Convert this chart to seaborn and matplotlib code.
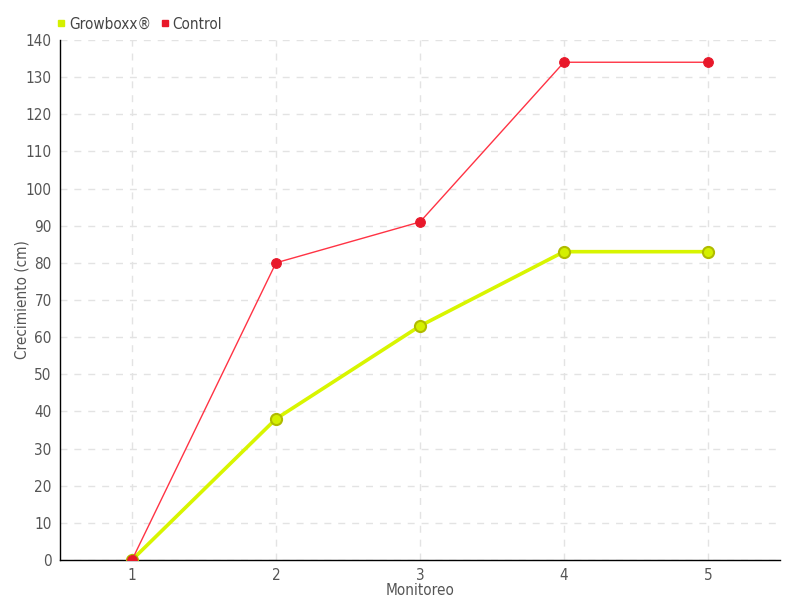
import matplotlib
matplotlib.use("Agg")
import matplotlib.pyplot as plt
import seaborn as sns
import pandas as pd
from matplotlib.lines import Line2D

monitoreo = [1, 2, 3, 4, 5]
growboxx = [0, 38, 63, 83, 83]
control = [0, 80, 91, 134, 134]
series_names = ["Growboxx®", "Control"]
y_ticks = list(range(0, 141, 10))

sns.set_style("white")
plt.rcParams["font.family"] = ["DejaVu Sans"]
plt.rcParams["font.stretch"] = "condensed"

df = pd.DataFrame({
    "Monitoreo": monitoreo * 2,
    "valor": growboxx + control,
    "serie": [series_names[0]] * len(growboxx) + [series_names[1]] * len(control),
})

fig = plt.figure(figsize=(8, 6), dpi=100)
ax = fig.add_axes([0.075, 0.0667, 0.9, 0.8667])

yellow = "#d8f500"
red = "#ff3344"

sns.lineplot(data=df[df.serie == series_names[0]], x="Monitoreo", y="valor",
             color=yellow, linewidth=2.6, marker="o", markersize=8,
             markerfacecolor="#d4f000", markeredgecolor="#b0bb00",
             markeredgewidth=1.5, ax=ax, zorder=3)
sns.lineplot(data=df[df.serie == series_names[1]], x="Monitoreo", y="valor",
             color=red, linewidth=1, marker="o", markersize=7,
             markerfacecolor="#e8182a", markeredgecolor="#e8182a", ax=ax, zorder=4)

ax.set_xlim(0.5, 5.5)
ax.set_ylim(0, 140)
ax.set_xticks(monitoreo)
ax.set_yticks(y_ticks)
ax.grid(True, color="#e3e3e3", linestyle=(0, (5, 5)), linewidth=1)
ax.set_axisbelow(True)
for s in ["top", "right"]:
    ax.spines[s].set_visible(False)
for s in ["left", "bottom"]:
    ax.spines[s].set_color("black")
    ax.spines[s].set_linewidth(1)
ax.tick_params(axis="both", direction="out", length=4, width=1, color="#333333",
               labelsize=11, labelcolor="#555555", pad=2)
ax.set_xlabel("Monitoreo", fontsize=11, color="#555555", labelpad=0)
ax.set_ylabel("Crecimiento (cm)", fontsize=11, color="#555555")
ax.yaxis.set_label_coords(-0.043, 0.5)

handles = [
    Line2D([], [], marker="s", linestyle="none", color="#d4f000", markersize=5),
    Line2D([], [], marker="s", linestyle="none", color="#e8182a", markersize=5),
]
fig.legend(handles, series_names, loc="upper left", bbox_to_anchor=(0.052, 0.995),
           ncol=2, frameon=False, fontsize=11, labelcolor="#444444",
           handletextpad=0.1, columnspacing=0.5, handlelength=0.8)

fig.savefig("out.png", dpi=100)
